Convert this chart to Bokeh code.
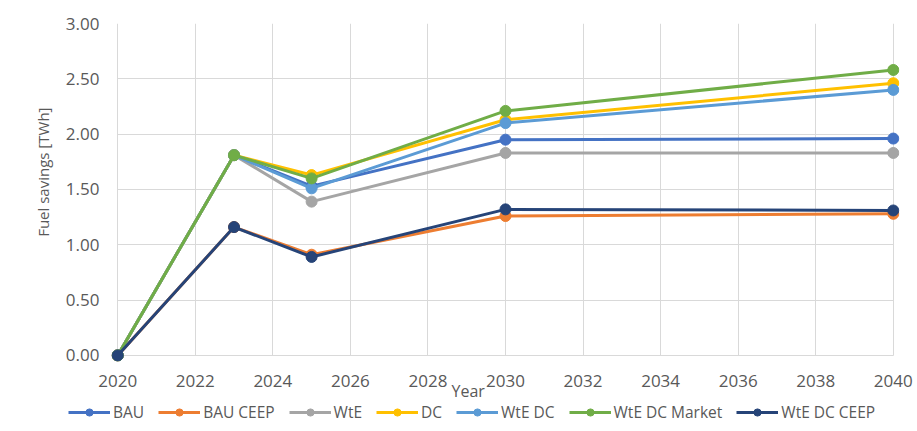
import numpy as np
from bokeh.plotting import figure
from bokeh.models import (ColumnDataSource, Range1d, SingleIntervalTicker, NumeralTickFormatter,
                          Title, Legend, LegendItem, Grid)
from bokeh.embed import file_html
from bokeh.resources import INLINE

years = [2020, 2023, 2025, 2030, 2040]
series_names = ["BAU", "BAU CEEP", "WtE", "DC", "WtE DC", "WtE DC Market", "WtE DC CEEP"]
bau = [0.00, 1.81, 1.53, 1.95, 1.96]
bau_ceep = [0.00, 1.16, 0.91, 1.26, 1.28]
wte = [0.00, 1.81, 1.39, 1.83, 1.83]
dc = [0.00, 1.81, 1.63, 2.13, 2.46]
wte_dc = [0.00, 1.81, 1.51, 2.10, 2.40]
wte_dc_market = [0.00, 1.81, 1.60, 2.21, 2.58]
wte_dc_ceep = [0.00, 1.16, 0.89, 1.32, 1.31]
series_values = [bau, bau_ceep, wte, dc, wte_dc, wte_dc_market, wte_dc_ceep]
colors = ["#4472C4", "#ED7D31", "#A5A5A5", "#FFC000", "#5B9BD5", "#70AD47", "#264478"]

FONT = "Open Sans"
TXT = "#595959"
GRID = "#d9d9d9"

# small padding around the data range so the end markers are not clipped
PADX = 0.16
PADY = 0.055
p = figure(width=917, height=402, output_backend="svg", toolbar_location=None,
           x_range=Range1d(2020 - PADX, 2040 + PADX), y_range=Range1d(0 - PADY, 3),
           min_border_left=111, min_border_right=18, min_border_top=23, min_border_bottom=41)
p.outline_line_color = None
p.background_fill_color = "white"

for name, vals, col in zip(series_names, series_values, colors):
    src = ColumnDataSource(dict(x=years, y=vals))
    p.line("x", "y", source=src, line_color=col, line_width=3)
    p.scatter("x", "y", source=src, size=11, fill_color=col, line_color=col)

p.xaxis.ticker = SingleIntervalTicker(interval=2)
p.yaxis.ticker = SingleIntervalTicker(interval=0.5)
p.yaxis.formatter = NumeralTickFormatter(format="0.00")

for ax in (p.xaxis, p.yaxis):
    ax.major_tick_line_color = None
    ax.minor_tick_line_color = None
    ax.major_label_text_font = FONT
    ax.major_label_text_font_size = "17px"
    ax.major_label_text_color = TXT
    ax.axis_line_color = None
p.yaxis.major_label_standoff = 6
p.xaxis.major_label_standoff = 7

p.xgrid.grid_line_color = GRID
p.ygrid.grid_line_color = GRID
if "cross_bounds" in Grid.properties():
    p.xgrid.cross_bounds = (0, 3)
    p.ygrid.cross_bounds = (2020, 2040)

ytitle = Title(text="Fuel savings [TWh]", align="right", offset=84, standoff=19,
               text_font=FONT, text_font_size="15px", text_font_style="normal", text_color=TXT)
p.add_layout(ytitle, "left")
xtitle = Title(text="Year", align="left", offset=340, standoff=-23,
               text_font=FONT, text_font_size="16px", text_font_style="normal", text_color=TXT)
p.add_layout(xtitle, "below")

# legend strip
lg = figure(width=917, height=29, output_backend="svg", toolbar_location=None,
            x_range=Range1d(0, 1), y_range=Range1d(0, 1),
            min_border_left=0, min_border_right=0, min_border_top=0, min_border_bottom=0)
lg.axis.visible = False
lg.grid.visible = False
lg.outline_line_color = None
items = []
for name, col in zip(series_names, colors):
    src = ColumnDataSource(dict(x=[np.nan], y=[np.nan]))
    r1 = lg.line("x", "y", source=src, line_color=col, line_width=3)
    r2 = lg.scatter("x", "y", source=src, size=10, fill_color=col, line_color=col)
    items.append(LegendItem(label=name, renderers=[r1, r2]))
legend = Legend(items=items, orientation="horizontal", location=(68, 8),
                glyph_width=42, glyph_height=18, label_standoff=3, spacing=14,
                padding=0, margin=0, border_line_color=None, background_fill_alpha=0,
                label_text_font=FONT, label_text_font_size="15.5px", label_text_color=TXT)
lg.add_layout(legend, "center")

open("out.html", "w").write(file_html([p, lg], INLINE))
